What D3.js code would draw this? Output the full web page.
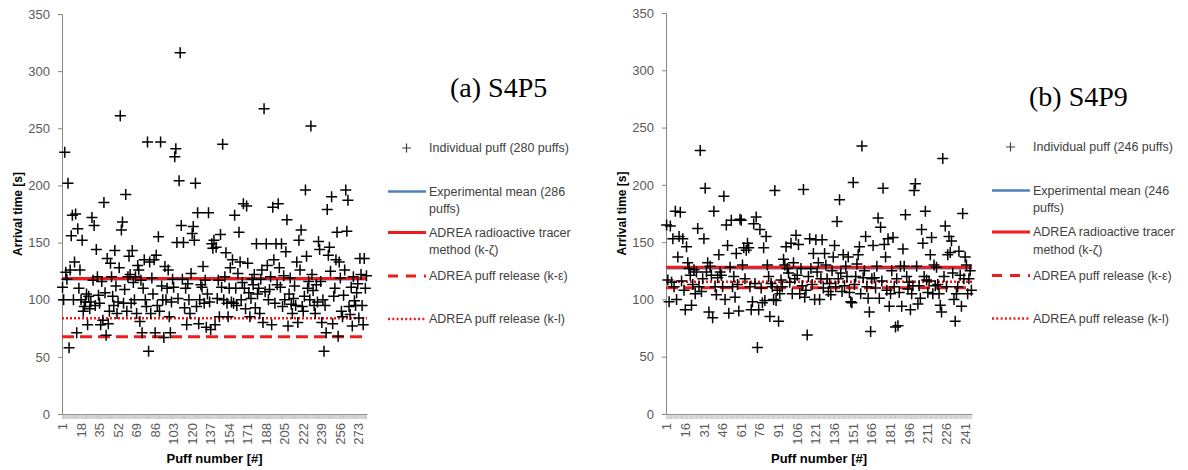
<!DOCTYPE html>
<html>
<head>
<meta charset="utf-8">
<script src="https://cdn.jsdelivr.net/npm/d3@7"></script>
<style>
  body { margin: 0; background: #fff; }
  svg { display: block; }
</style>
</head>
<body>
<div id="chart"></div>
<script>
// arrival time of each puff [s]
const s4p5Values = [
  111, 100, 229, 124, 118, 202, 58, 126, 156, 174, 100, 133, 175, 71, 162, 110, 126, 100, 152, 90,
  94, 98, 105, 78, 103, 92, 98, 172, 117, 165, 95, 144, 120, 104, 97, 78, 116, 82, 185, 106,
  69, 136, 79, 90, 132, 120, 103, 95, 143, 112, 88, 98, 128, 261, 161, 168, 97, 109, 192, 90,
  120, 138, 122, 97, 143, 115, 100, 120, 88, 130, 126, 81, 117, 71, 110, 135, 100, 94, 238, 55,
  133, 88, 119, 105, 135, 71, 139, 95, 155, 90, 238, 112, 100, 67, 129, 100, 110, 126, 85, 71,
  98, 118, 111, 225, 232, 150, 101, 204, 316, 165, 118, 150, 93, 110, 78, 114, 100, 88, 123, 158,
  164, 152, 202, 94, 176, 79, 100, 113, 111, 129, 97, 117, 76, 105, 176, 98, 74, 149, 145, 152,
  78, 146, 101, 117, 85, 157, 111, 236, 100, 120, 141, 97, 85, 110, 128, 98, 135, 97, 174, 110,
  95, 123, 159, 133, 100, 115, 184, 110, 92, 182, 132, 106, 85, 101, 118, 113, 122, 93, 149, 105,
  110, 88, 118, 126, 80, 267, 107, 149, 130, 100, 109, 120, 78, 181, 135, 97, 149, 113, 184, 128,
  111, 149, 94, 121, 100, 142, 170, 77, 105, 119, 96, 88, 101, 112, 95, 133, 80, 152, 126, 161,
  94, 90, 103, 196, 138, 110, 116, 100, 252, 122, 108, 95, 88, 113, 98, 151, 144, 116, 80, 100,
  55, 95, 71, 179, 139, 146, 125, 190, 79, 103, 110, 135, 159, 68, 133, 119, 90, 85, 104, 126,
  196, 160, 187, 94, 87, 111, 77, 120, 99, 95, 106, 114, 84, 136, 122, 95, 78, 136, 110, 121
];

const s4p9Values = [
  165, 117, 98, 164, 115, 153, 111, 177, 100, 137, 155, 176, 116, 153, 108, 91, 146, 132, 127, 121,
  95, 113, 126, 105, 124, 162, 111, 230, 107, 118, 153, 197, 124, 132, 89, 129, 121, 84, 177, 111,
  104, 119, 139, 124, 121, 111, 190, 100, 165, 147, 88, 128, 169, 111, 120, 102, 140, 113, 90, 170,
  169, 130, 145, 118, 143, 149, 145, 111, 91, 98, 166, 114, 172, 58, 91, 161, 110, 97, 145, 99,
  155, 130, 120, 85, 114, 111, 100, 195, 99, 108, 81, 105, 117, 111, 135, 130, 146, 127, 123, 115,
  149, 105, 132, 118, 156, 121, 148, 105, 127, 112, 196, 102, 108, 69, 120, 153, 127, 113, 140, 100,
  152, 124, 132, 100, 118, 152, 110, 140, 130, 118, 107, 114, 104, 125, 137, 147, 111, 168, 118, 187,
  123, 107, 139, 112, 129, 120, 137, 106, 98, 97, 202, 113, 120, 131, 139, 146, 105, 234, 119, 125,
  155, 111, 101, 89, 72, 118, 147, 119, 110, 129, 171, 101, 163, 116, 197, 148, 137, 108, 153, 94,
  105, 125, 154, 111, 76, 118, 77, 106, 129, 94, 144, 129, 174, 120, 109, 115, 91, 105, 112, 195,
  201, 129, 96, 112, 101, 161, 149, 120, 177, 117, 106, 116, 139, 154, 105, 130, 112, 128, 113, 105,
  95, 89, 223, 120, 164, 111, 139, 155, 141, 151, 123, 100, 81, 105, 111, 142, 121, 94, 175, 118,
  137, 130, 105, 118, 125, 108
];

// horizontal reference lines [s]
const s4p5Lines = { mean: 117.8, tracer: 118.5, kEps: 67.5, kL: 83.7 };
const s4p9Lines = { mean: 127.3, tracer: 128, kEps: 110.3, kL: 115.5 };

const yTicks = [0, 50, 100, 150, 200, 250, 300, 350];
const legendLabels = [
  ["Individual puff (280 puffs)"],
  ["Experimental mean (286", "puffs)"],
  ["ADREA radioactive tracer", "method (k-ζ)"],
  ["ADREA puff release (k-ε)"],
  ["ADREA puff release (k-l)"]
];
const legendLabels9 = [
  ["Individual puff (246 puffs)"],
  ["Experimental mean (246", "puffs)"],
  ["ADREA radioactive tracer", "method (k-ζ)"],
  ["ADREA puff release (k-ε)"],
  ["ADREA puff release (k-l)"]
];

const RED = "#ee1c1c", BLUE = "#4f81bd";
const FONT = "'Liberation Sans', Arial, sans-serif";

const svg = d3.select("#chart").append("svg")
  .attr("width", 1188).attr("height", 470);

const drawPanel = (cfg) => {
  const { values, lines, left, right, top, bottom, labelStep, title, legend } = cfg;
  const puffs = values.map((d, i) => i + 1);

  const xScale = d3.scaleBand().domain(puffs).range([left, right]).padding(0);
  const yScale = d3.scaleLinear().domain([0, 350]).range([bottom, top]);
  const cx = d => xScale(d) + xScale.bandwidth() / 2;

  const g = svg.append("g");

  // y axis
  const yAxis = g.append("g")
    .attr("transform", `translate(${left},0)`)
    .call(d3.axisLeft(yScale).tickValues(yTicks).tickSize(4).tickPadding(8));
  yAxis.select(".domain").attr("stroke", "#868686");
  yAxis.selectAll(".tick line").attr("stroke", "#868686");
  yAxis.selectAll("text").style("font-family", FONT).style("font-size", "13px").attr("fill", "#595959");

  // x axis, a tick for every puff
  const xAxis = g.append("g")
    .attr("transform", `translate(0,${bottom})`)
    .call(d3.axisBottom(xScale).tickSize(5).tickSizeOuter(0)
      .tickFormat(d => (d - 1) % labelStep === 0 ? d : ""));
  xAxis.select(".domain").attr("stroke", "#868686");
  xAxis.selectAll(".tick line").attr("stroke", "#a6a6a6").attr("stroke-width", 0.6);
  xAxis.selectAll("text")
    .attr("transform", "rotate(-90)")
    .attr("x", -9).attr("y", 0).attr("dy", "0.35em")
    .attr("text-anchor", "end")
    .style("font-family", FONT).style("font-size", "13px").attr("fill", "#595959");

  // reference lines
  const hline = (v, color, width, dash) => g.append("line")
    .attr("x1", left).attr("x2", right)
    .attr("y1", yScale(v)).attr("y2", yScale(v))
    .attr("stroke", color).attr("stroke-width", width)
    .attr("stroke-dasharray", dash);
  hline(lines.mean, BLUE, 2.5, null);
  hline(lines.tracer, RED, 3, null);
  hline(lines.kEps, RED, 3, "12,6");
  hline(lines.kL, RED, 2.5, "2,2");

  // puffs
  const m = 5.5;
  g.append("g").selectAll("path")
    .data(puffs)
    .join("path")
      .attr("d", d => `M${cx(d) - m},${yScale(values[d - 1])}h${2 * m}M${cx(d)},${yScale(values[d - 1]) - m}v${2 * m}`)
      .attr("stroke", "#000").attr("stroke-width", 1.5).attr("fill", "none");

  // axis titles
  g.append("text")
    .attr("transform", `translate(${left - 44},${(top + bottom) / 2}) rotate(-90)`)
    .attr("text-anchor", "middle").attr("dy", "0.35em")
    .style("font-family", FONT).style("font-size", "12px").style("font-weight", "bold")
    .text("Arrival time [s]");
  g.append("text")
    .attr("x", (left + right) / 2).attr("y", 458).attr("dy", "0.35em")
    .attr("text-anchor", "middle")
    .style("font-family", FONT).style("font-size", "13px").style("font-weight", "bold")
    .text("Puff number [#]");

  // title
  g.append("text")
    .attr("x", title.x).attr("y", title.y)
    .style("font-family", "'Liberation Serif', 'Times New Roman', serif")
    .style("font-size", "28px")
    .text(title.text);

  // legend
  const lg = g.append("g");
  const lx = legend.x, tx = legend.x + 41;
  lg.append("path")
    .attr("d", `M${lx + 14},${legend.ys[0]}h9M${lx + 18.5},${legend.ys[0] - 4.5}v9`)
    .attr("stroke", "#404040").attr("stroke-width", 1.2);
  const sample = (y, color, width, dash) => lg.append("line")
    .attr("x1", lx).attr("x2", lx + 38).attr("y1", y).attr("y2", y)
    .attr("stroke", color).attr("stroke-width", width).attr("stroke-dasharray", dash);
  sample(legend.ys[1], BLUE, 2.5, null);
  sample(legend.ys[2], RED, 3, null);
  sample(legend.ys[3], RED, 3, "10,8");
  sample(legend.ys[4], RED, 2.5, "2,2.3");

  legend.labels.forEach((lines, i) => {
    lines.forEach((t, j) => {
      lg.append("text")
        .attr("x", tx).attr("y", legend.ys[i] + j * 17.5).attr("dy", "0.35em")
        .style("font-family", FONT).style("font-size", "12.5px").attr("fill", "#404040")
        .text(t);
    });
  });
};

drawPanel({
  values: s4p5Values, lines: s4p5Lines,
  left: 62, right: 367, top: 14, bottom: 414, labelStep: 17,
  title: { text: "(a) S4P5", x: 450, y: 97 },
  legend: { x: 388, ys: [148, 191.5, 232.5, 276, 319], labels: legendLabels }
});

drawPanel({
  values: s4p9Values, lines: s4p9Lines,
  left: 666, right: 972, top: 13, bottom: 414, labelStep: 15,
  title: { text: "(b) S4P9", x: 1029, y: 106 },
  legend: { x: 992, ys: [147, 190.5, 232, 275.5, 318.5], labels: legendLabels9 }
});
</script>
</body>
</html>
